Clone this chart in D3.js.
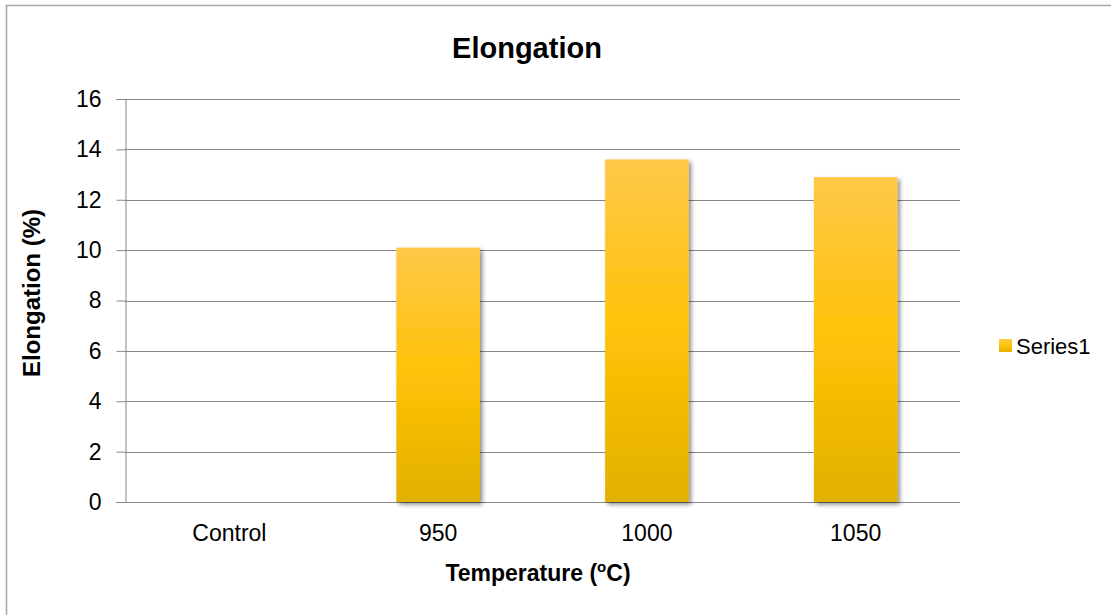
<!DOCTYPE html>
<html>
<head>
<meta charset="utf-8">
<script src="https://cdn.jsdelivr.net/npm/d3@7"></script>
<style>
  html, body { margin: 0; padding: 0; background: #fff; }
  svg { display: block; font-family: "Liberation Sans", Arial, sans-serif; }
</style>
</head>
<body>
<svg id="chart" width="1111" height="615"></svg>
<script>
// Elongation by heat-treatment temperature
const categories = ["Control", "950", "1000", "1050"];
const elongation = [0, 10.1, 13.6, 12.9];
const yTicks = [0, 2, 4, 6, 8, 10, 12, 14, 16];
const seriesName = "Series1";

const svg = d3.select("#chart");
const W = 1111, H = 615;
const plot = { left: 125, right: 960, top: 99, bottom: 502 };

// outer chart frame
svg.append("rect")
  .attr("x", 6.5).attr("y", 5.5)
  .attr("width", W + 10).attr("height", H + 10)
  .attr("fill", "#fff").attr("stroke", "#a6a6a6").attr("stroke-width", 1.5);

const defs = svg.append("defs");
const grad = defs.append("linearGradient")
  .attr("id", "goldFill").attr("x1", 0).attr("y1", 0).attr("x2", 0).attr("y2", 1);
grad.append("stop").attr("offset", "0%").attr("stop-color", "#ffc848");
grad.append("stop").attr("offset", "50%").attr("stop-color", "#ffc208");
grad.append("stop").attr("offset", "100%").attr("stop-color", "#e2b000");

const shadow = defs.append("filter").attr("id", "barShadow")
  .attr("x", "-20%").attr("y", "-10%").attr("width", "150%").attr("height", "130%");
shadow.append("feDropShadow")
  .attr("dx", 2.5).attr("dy", 2.5).attr("stdDeviation", 2)
  .attr("flood-color", "#000").attr("flood-opacity", 0.45);

const x = d3.scaleBand().domain(categories)
  .range([plot.left, plot.right]).paddingInner(0.6).paddingOuter(0.3);
const y = d3.scaleLinear().domain([0, 16]).range([plot.bottom, plot.top]);

// horizontal gridlines
svg.append("g")
  .selectAll("line").data(yTicks.filter(d => d > 0)).join("line")
  .attr("x1", plot.left).attr("x2", plot.right)
  .attr("y1", d => Math.round(y(d)) + 0.5).attr("y2", d => Math.round(y(d)) + 0.5)
  .attr("stroke", "#868686").attr("stroke-width", 1);

// y axis
const yAxis = svg.append("g")
  .attr("transform", `translate(${plot.left + 0.5},0)`)
  .call(d3.axisLeft(y).tickValues(yTicks).tickSize(9).tickPadding(15).tickFormat(d3.format("d")));
yAxis.select(".domain").attr("stroke", "#868686");
yAxis.selectAll(".tick line").attr("stroke", "#868686");
yAxis.selectAll(".tick text")
  .attr("font-size", 23).attr("fill", "#000")
  .attr("font-family", "Liberation Sans, Arial, sans-serif");

// x axis
const xAxis = svg.append("g")
  .attr("transform", `translate(0,${plot.bottom + 0.5})`)
  .call(d3.axisBottom(x).tickSize(0).tickPadding(22));
xAxis.select(".domain").attr("stroke", "#868686").attr("d", `M${plot.left},0H${plot.right}`);
xAxis.selectAll(".tick text")
  .attr("font-size", 23).attr("fill", "#000")
  .attr("font-family", "Liberation Sans, Arial, sans-serif");

// bars
svg.append("g")
  .selectAll("rect").data(categories.map((c, i) => ({ c, v: elongation[i] })).filter(d => d.v > 0))
  .join("rect")
  .attr("x", d => x(d.c))
  .attr("y", d => y(d.v))
  .attr("width", x.bandwidth())
  .attr("height", d => y(0) - y(d.v))
  .attr("fill", "url(#goldFill)")
  .attr("filter", "url(#barShadow)");

// chart title
svg.append("text")
  .attr("x", 527).attr("y", 58)
  .attr("text-anchor", "middle")
  .attr("font-size", 29).attr("font-weight", "bold")
  .text("Elongation");

// axis titles
svg.append("text")
  .attr("transform", `translate(40,293) rotate(-90)`)
  .attr("text-anchor", "middle")
  .attr("font-size", 24).attr("font-weight", "bold")
  .text("Elongation (%)");

const xt = svg.append("text")
  .attr("x", 538).attr("y", 581)
  .attr("text-anchor", "middle")
  .attr("font-size", 23).attr("font-weight", "bold");
xt.append("tspan").text("Temperature (");
xt.append("tspan").attr("font-size", 15).attr("dy", -9).text("o");
xt.append("tspan").attr("dy", 9).text("C)");

// legend
const lg = svg.append("g").attr("transform", "translate(999,339)");
lg.append("rect").attr("width", 13).attr("height", 13).attr("fill", "url(#goldFill)");
lg.append("text").attr("x", 17).attr("y", 15)
  .attr("font-size", 22).text(seriesName);
</script>
</body>
</html>
